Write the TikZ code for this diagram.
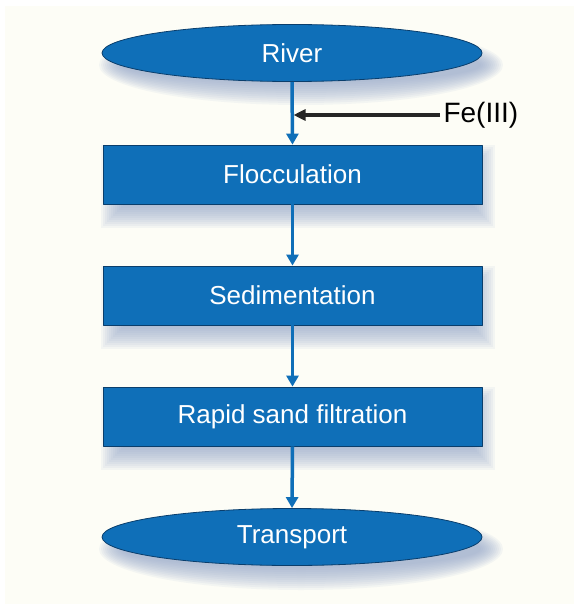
\documentclass[tikz,border=0pt]{standalone}
\usepackage{fontspec}
\setmainfont{Liberation Sans}
\usetikzlibrary{shapes.geometric,arrows.meta}
\definecolor{boxblue}{HTML}{0F6FB8}
\definecolor{edgeblue}{HTML}{0A3E6C}
\definecolor{paper}{HTML}{FDFDF6}
\definecolor{shade}{HTML}{8FA3C9}
\tikzset{
  oval/.style={ellipse, fill=boxblue, draw=edgeblue, line width=0.8pt, minimum width=380pt, minimum height=57pt, text=white, font=\fontsize{26}{29}\selectfont},
  stepbox/.style={rectangle, fill=boxblue, draw=edgeblue, line width=0.8pt, minimum width=379pt, minimum height=59pt, text=white, font=\fontsize{26}{29}\selectfont},
  flow/.style={draw=boxblue, line width=3.5pt, -{Triangle[length=11pt,width=12pt]}},
  haze/.style={fill=shade, fill opacity=0.085},
}
\begin{document}
\begin{tikzpicture}[x=1pt, y=-1pt, line join=round]
			\useasboundingbox (0,0) rectangle (574,604);
			\fill[paper] (5,6) rectangle (574,604);
			% soft shadows
			\foreach \k in {0,...,11}{
				\fill[haze] (301,65) ellipse ({190+12-2*\k} and {28+12-2*\k});
				\fill[haze] (301,549) ellipse ({190+12-2*\k} and {29+12-2*\k});
				\foreach \yc in {174.5,295.5,416.5}
					\fill[haze] ({113-12+2*\k},{\yc-29.5+2*\k}) rectangle ({483+12-2*\k},{\yc+29.5+24-2*\k});
			}
			\node[oval] (river) at (292,53) {River};
			\node[stepbox] (floc) at (292.5,174.5) {Flocculation};
			\node[stepbox] (sed) at (292.5,295.5) {Sedimentation};
			\node[stepbox] (filt) at (292.5,416.5) {Rapid sand filtration};
			\node[oval] (trans) at (292,537) {Transport};
			\node[anchor=west, font=\fontsize{28}{31}\selectfont] (fe) at (440,115) {Fe(III)};
			\coordinate (dose) at (293.5,115);
			% process chain
			\draw[flow] (river.south) -- (floc.north);
			\draw[flow] (floc.south) -- (sed.north);
			\draw[flow] (sed.south) -- (filt.north);
			\draw[flow] (filt.south) -- (trans.north);
			% chemical dosing
			\draw[line width=3.5pt, draw=black!85, -{Triangle[length=12pt,width=11pt]}] (fe.west) -- (dose);
		\end{tikzpicture}
\end{document}
